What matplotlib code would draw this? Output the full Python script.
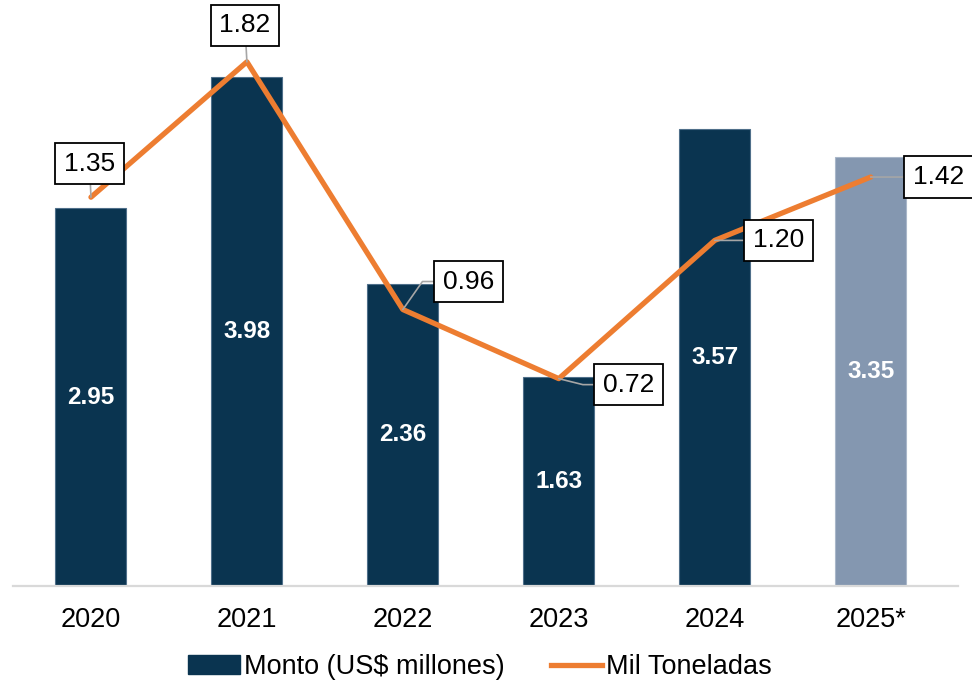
import matplotlib
matplotlib.use("Agg")
import matplotlib.pyplot as plt
from matplotlib.patches import Patch
from matplotlib.lines import Line2D

plt.rcParams['font.family'] = ['Liberation Sans', 'DejaVu Sans']

years = ["2020", "2021", "2022", "2023", "2024", "2025*"]
monto = [2.95, 3.98, 2.36, 1.63, 3.57, 3.35]
toneladas = [1.35, 1.82, 0.96, 0.72, 1.20, 1.42]

navy = "#0A3450"
grey_blue = "#8497B0"
orange = "#ED7D31"

# label box offsets from the line point, in pixels (x right, y up), plus leader style
label_offsets = [(-1.5, 33.5), (-2, 36.5), (65.5, 28), (69.5, -6), (63.5, 0), (68, 0)]
leaders = ["arc3", "arc3", "angle,angleA=0,angleB=55,rad=0",
           "angle,angleA=0,angleB=-14,rad=0", "arc3", "arc3"]

fig = plt.figure(figsize=(9.72, 6.87), dpi=100)
ax = fig.add_axes([13 / 972, 1 - 586 / 687, (958 - 13) / 972, 576 / 687])
x = list(range(len(years)))

colors = [navy] * 5 + [grey_blue]
edges = ["#4F6F8A"] * 5 + ["#A9B7C9"]
ax.bar(x, monto, width=0.455, color=colors, edgecolor=edges, linewidth=0.8, zorder=2)
for xi, v in zip(x, monto):
    ax.text(xi, v / 2, f"{v:.2f}", ha="center", va="center", color="white",
            fontsize=17.5, fontweight="bold", zorder=3)

ax.set_xlim(-0.5, 5.56)
ax.set_ylim(0, 4.5)
ax.set_xticks(x)
ax.set_xticklabels(years, fontsize=19.5)
ax.tick_params(axis="x", length=0, pad=15)
ax.set_yticks([])
for s in ["top", "left", "right"]:
    ax.spines[s].set_visible(False)
ax.spines["bottom"].set_color("#D9D9D9")
ax.spines["bottom"].set_linewidth(1.6)

ax2 = ax.twinx()
ax2.set_ylim(0, 2.0)
ax2.set_yticks([])
for s in ["top", "left", "right", "bottom"]:
    ax2.spines[s].set_visible(False)
ax2.plot(x, toneladas, color=orange, linewidth=3.8, solid_capstyle="round", zorder=3)

for xi, v, (dx, dy), cs in zip(x, toneladas, label_offsets, leaders):
    ax2.annotate(f"{v:.2f}", xy=(xi, v), xytext=(dx, dy), textcoords="offset pixels",
                 ha="center", va="center", fontsize=19,
                 bbox=dict(boxstyle="square,pad=0.33", fc="white", ec="black", lw=1.3),
                 arrowprops=dict(arrowstyle="-", color="#A6A6A6", lw=1.2,
                                 shrinkA=0, shrinkB=0, connectionstyle=cs),
                 zorder=4, annotation_clip=False)

handles = [Patch(facecolor=navy, edgecolor=navy),
           Line2D([0], [0], color=orange, linewidth=3.8)]
fig.legend(handles, ["Monto (US$ millones)", "Mil Toneladas"], loc="center",
           bbox_to_anchor=(0.494, 20 / 687), ncol=2, frameon=False, fontsize=19.5,
           handlelength=1.9, handleheight=0.7, handletextpad=0.15, columnspacing=1.7,
           borderpad=0)

fig.savefig("out.png", dpi=100)
